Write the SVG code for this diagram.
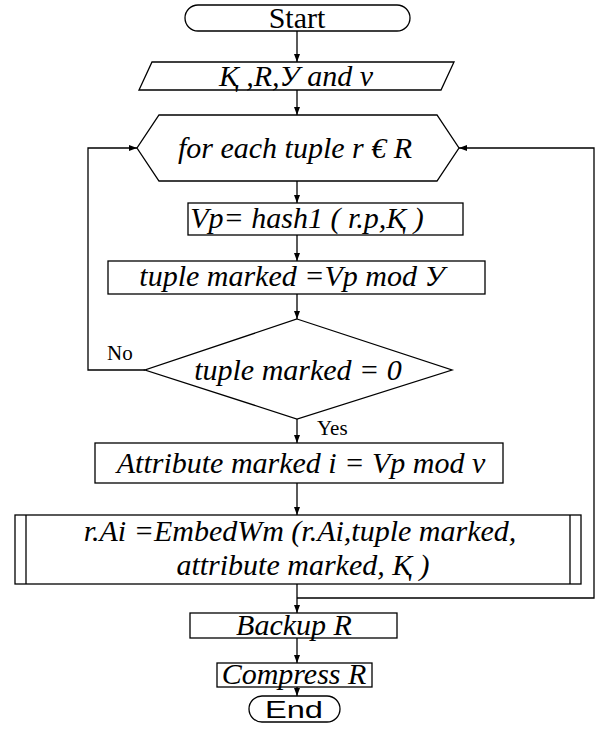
<svg xmlns="http://www.w3.org/2000/svg" width="598" height="733" viewBox="0 0 598 733">
<defs>
<marker id="ah" markerWidth="8" markerHeight="6" refX="8" refY="3" orient="auto" markerUnits="userSpaceOnUse">
<path d="M0,0 L8,3 L0,6 Z" fill="#000"/>
</marker>
<style>
.s{fill:#fff;stroke:#000;stroke-width:1.3}
.c{fill:none;stroke:#000;stroke-width:1.3}
.t{font-family:"Liberation Serif","DejaVu Serif",serif;font-style:italic;font-size:30px;fill:#000;text-anchor:middle}
.r{font-family:"Liberation Serif","DejaVu Serif",serif;font-size:21px;fill:#000}
</style>
</defs>
<rect width="598" height="733" fill="#fff"/>
<g id="connectors">
<line class="c" x1="297" y1="31" x2="297" y2="62" marker-end="url(#ah)"/>
<line class="c" x1="297" y1="90" x2="297" y2="115" marker-end="url(#ah)"/>
<line class="c" x1="297" y1="181" x2="297" y2="203" marker-end="url(#ah)"/>
<line class="c" x1="297" y1="235" x2="297" y2="261" marker-end="url(#ah)"/>
<line class="c" x1="297" y1="294" x2="297" y2="319" marker-end="url(#ah)"/>
<line class="c" x1="297" y1="419" x2="297" y2="443" marker-end="url(#ah)"/>
<line class="c" x1="297" y1="483" x2="297" y2="515" marker-end="url(#ah)"/>
<line class="c" x1="297" y1="584" x2="297" y2="613" marker-end="url(#ah)"/>
<polyline class="c" points="297,598 594,598 594,148 459,148" marker-end="url(#ah)"/>
<polyline class="c" points="145,370 88,370 88,148 137,148" marker-end="url(#ah)"/>
<line class="c" x1="297" y1="638" x2="297" y2="663" marker-end="url(#ah)"/>
<line class="c" x1="297" y1="687" x2="297" y2="696" marker-end="url(#ah)"/>
<text class="r" x="107" y="360">No</text>
<text class="r" x="317" y="435">Yes</text>
</g>
<g id="start">
<rect class="s" x="185" y="5" width="225" height="26" rx="13"/>
<text x="297" y="28" font-family="Liberation Serif, serif" font-size="30" text-anchor="middle">Start</text>
</g>
<g id="input">
<polygon class="s" points="152,62 454,62 441,90 139,90"/>
<text class="t" x="296" y="86">Қ ,R,У and v</text>
</g>
<g id="loop">
<polygon class="s" points="159,115 437,115 459,148 437,181 159,181 137,148"/>
<text class="t" x="295" y="158">for each tuple r € R</text>
</g>
<g id="hash">
<rect class="s" x="188" y="203" width="275" height="32"/>
<text class="t" x="307" y="228">Vp= hash1 ( r.p,Қ )</text>
</g>
<g id="tuple">
<rect class="s" x="108" y="261" width="377" height="33"/>
<text class="t" x="292" y="286">tuple marked =Vp mod У</text>
</g>
<g id="decision">
<polygon class="s" points="297,319 452,370 297,419 145,370"/>
<text class="t" x="298" y="380">tuple marked = 0</text>
</g>
<g id="attribute">
<rect class="s" x="95" y="443" width="408" height="40"/>
<text class="t" x="301" y="473">Attribute marked i = Vp mod v</text>
</g>
<g id="embed">
<rect class="s" x="15" y="515" width="566" height="69"/>
<line class="c" x1="26" y1="515" x2="26" y2="584"/>
<line class="c" x1="570" y1="515" x2="570" y2="584"/>
<text class="t" x="300" y="541">r.Ai =EmbedWm (r.Ai,tuple marked,</text>
<text class="t" x="303" y="575">attribute marked, Қ )</text>
</g>
<g id="backup">
<rect class="s" x="190" y="613" width="207" height="25"/>
<text class="t" x="294" y="635">Backup R</text>
</g>
<g id="compress">
<rect class="s" x="217" y="663" width="155" height="24"/>
<text class="t" x="294" y="684">Compress R</text>
</g>
<g id="end">
<rect class="s" x="249" y="696" width="91" height="26" rx="13"/>
<text x="294" y="718" font-family="Liberation Sans, Arial, sans-serif" font-size="24" text-anchor="middle" textLength="58" lengthAdjust="spacingAndGlyphs">End</text>
</g>
</svg>
